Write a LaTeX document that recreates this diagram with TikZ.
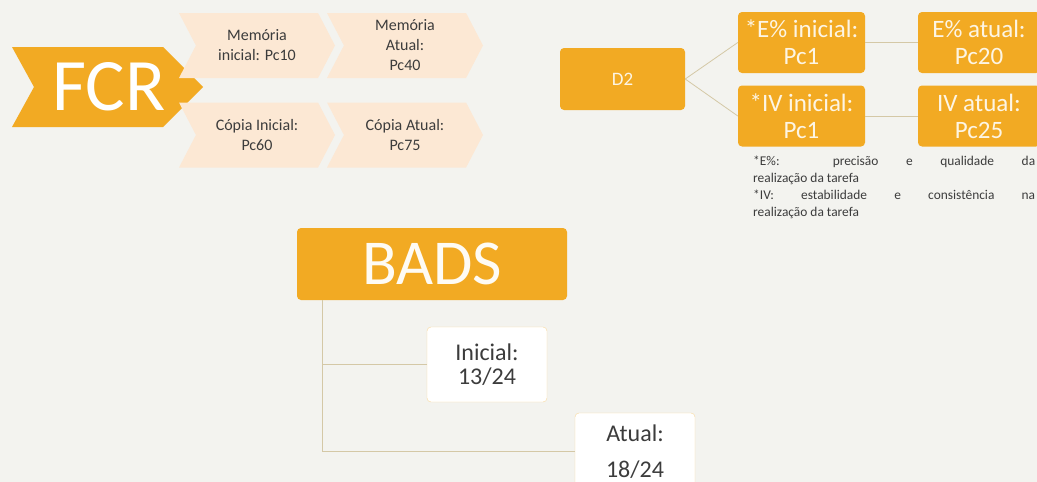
\documentclass[tikz,border=0pt]{standalone}
\usepackage{fontspec}
\setmainfont{Carlito}
\usetikzlibrary{shapes.symbols}
\definecolor{fundo}{RGB}{243,243,239}
\definecolor{laranja}{RGB}{242,170,35}
\definecolor{pessego}{RGB}{252,232,212}
\definecolor{ramo}{RGB}{212,200,166}
\definecolor{cinza}{RGB}{60,60,60}
\tikzset{
  seta/.style={signal,signal from=west,signal to=east,fill=pessego,text=cinza,align=center,inner sep=0pt,
    minimum width=156pt,minimum height=65pt,signal pointer angle=125,font=\fontsize{16}{20}\selectfont},
  caixa/.style={fill=laranja,rounded corners=4pt,text=white!88!laranja,align=center,inner sep=0pt,
    minimum width=127pt,minimum height=61pt,font=\fontsize{25}{27}\selectfont},
  valor/.style={draw=laranja!45,fill=white,rounded corners=4pt,text=cinza,align=center,inner sep=0pt,
    minimum width=120pt,font=\fontsize{24}{24}\selectfont},
  liga/.style={draw=ramo,line width=0.8pt}
}
\begin{document}
\begin{tikzpicture}[x=1pt,y=-1pt]
\fill[fundo] (0,0) rectangle (1037,482);
\useasboundingbox (0,0) rectangle (1037,482);
\fill[laranja] (12,47) -- (163,47) -- (203,87) -- (163,127) -- (12,127) -- (34,87) -- cycle;
\node[text=white,inner sep=0pt,font=\fontsize{74}{74}\selectfont] (FCR) at (109,87) {FCR};
\node[seta] (mi) at (257,45.5) {Memória\\inicial: Pc10};
\node[seta] (ma) at (405,45.5) {Memória\\Atual:\\Pc40};
\node[seta] (ci) at (257,135) {Cópia Inicial:\\Pc60};
\node[seta] (ca) at (405,135) {Cópia Atual:\\Pc75};
\node[caixa,minimum width=125pt,minimum height=62pt,font=\fontsize{19}{19}\selectfont] (D2) at (622.5,79) {D2};
\node[caixa] (ei) at (801.5,42.5) {*E\% inicial:\\Pc1};
\node[caixa] (ii) at (801.5,116) {*IV inicial:\\Pc1};
\node[caixa,minimum width=122pt] (ea) at (979,42.5) {E\% atual:\\Pc20};
\node[caixa,minimum width=122pt] (ia) at (979,116) {IV atual:\\Pc25};
\draw[liga] (D2.east) -- (ei.west);
\draw[liga] (D2.east) -- (ii.west);
\draw[liga] (ei) -- (ea);
\draw[liga] (ii) -- (ia);
\node[anchor=north west,text width=282pt,align=justify,inner sep=0pt,text=cinza,font=\fontsize{13.4}{17}\selectfont] (nota) at (753,156)
  {*E\%: precisão e qualidade da\linebreak realização da tarefa\par *IV: estabilidade e consistência na\linebreak realização da tarefa};
\node[fill=laranja,rounded corners=4pt,text=white!95!laranja,inner sep=0pt,minimum width=270pt,minimum height=72pt,
  font=\fontsize{64}{64}\selectfont] (BADS) at (432,264) {BADS};
\node[valor,minimum height=75pt] (ini) at (487,364.5) {Inicial:\\13/24};
\node[valor,minimum height=77pt] (atu) at (635,451.5) {Atual:\\[12pt]18/24};
\draw[liga] ([xshift=26pt]BADS.south west) |- (ini.west);
\draw[liga] ([xshift=26pt]BADS.south west) |- (atu.west);
\end{tikzpicture}
\end{document}
